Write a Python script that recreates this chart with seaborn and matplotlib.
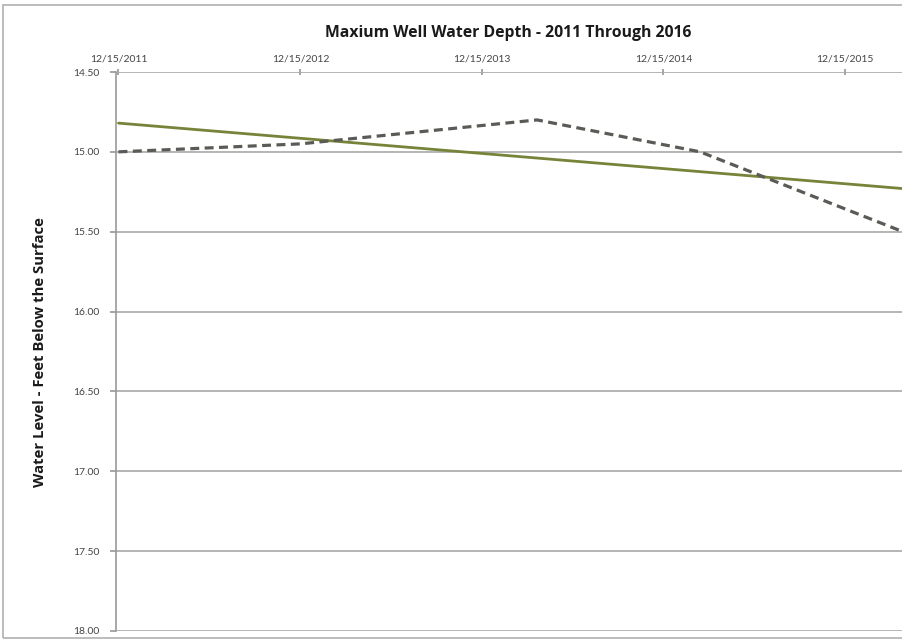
import matplotlib
matplotlib.use("Agg")
import matplotlib.pyplot as plt
import matplotlib.dates as mdates
from matplotlib.patches import Rectangle
import pandas as pd
import seaborn as sns

# Annual maximum depth readings (feet below surface)
depth_dates = ["2011-12-15", "2012-12-15", "2014-04-05", "2015-02-27", "2016-04-10"]
depth_values = [15.00, 14.95, 14.80, 15.00, 15.50]

# Linear trend across the record
trend_dates = ["2011-12-15", "2016-04-10"]
trend_values = [14.82, 15.23]

tick_dates = ["2011-12-15", "2012-12-15", "2013-12-15", "2014-12-15", "2015-12-15"]
y_ticks = [14.50, 15.00, 15.50, 16.00, 16.50, 17.00, 17.50, 18.00]

sns.set_theme(style="white")
plt.rcParams["font.family"] = ["Lato", "DejaVu Sans"]
heavy = ["Open Sans", "DejaVu Sans"]

depth = pd.DataFrame({"date": pd.to_datetime(depth_dates), "depth": depth_values})
trend = pd.DataFrame({"date": pd.to_datetime(trend_dates), "depth": trend_values})

fig = plt.figure(figsize=(9.03, 6.44), dpi=100)
ax = fig.add_axes([116 / 903, 1 - 631 / 644, (903 - 116) / 903, (631 - 72) / 644])

sns.lineplot(data=trend, x="date", y="depth", ax=ax, color="#76843a", linewidth=2.0)
sns.lineplot(data=depth, x="date", y="depth", ax=ax, color="#5a5a56", linewidth=2.3,
             linestyle=(0, (2.8, 1.7)))

ax.set_xlim(pd.Timestamp("2011-12-10"), pd.Timestamp("2016-04-10"))
ax.set_ylim(18.00, 14.50)
ax.set_yticks(y_ticks)
ax.yaxis.set_major_formatter(plt.FuncFormatter(lambda v, p: f"{v:.2f}"))
ax.set_xticks(pd.to_datetime(tick_dates))
ax.xaxis.set_major_formatter(mdates.DateFormatter("%m/%d/%Y"))
ax.xaxis.tick_top()
ax.xaxis.set_label_position("top")
ax.set_xlabel("")
ax.set_ylabel("")

ax.grid(axis="y", color="#a8a8a8", linewidth=1.2)
ax.grid(axis="x", visible=False)
for side in ["right", "bottom", "top"]:
    ax.spines[side].set_visible(False)
ax.spines["left"].set_color("#9a9a9a")
ax.spines["left"].set_linewidth(1.2)

ax.tick_params(axis="y", which="major", length=4, color="#9a9a9a", labelsize=7.5,
               labelcolor="#444444", left=True, pad=8)
ax.tick_params(axis="x", which="major", length=4, color="#9a9a9a", labelsize=7.5,
               labelcolor="#444444", top=True, direction="inout", pad=4)

fig.text(508 / 903, 1 - 33 / 644, "Maxium Well Water Depth - 2011 Through 2016",
         ha="center", va="center", fontsize=11.3, fontweight="bold", color="#1a1a1a",
         family=heavy)
fig.text(40 / 903, 1 - 352 / 644, "Water Level - Feet Below the Surface",
         ha="center", va="center", rotation=90, fontsize=10.7, fontweight="bold",
         color="#1a1a1a", family=heavy)

# Outer chart border
fig.patches.append(Rectangle((3 / 903, 1 - 638 / 644), 1.0, (638 - 5) / 644,
                             transform=fig.transFigure, fill=False,
                             edgecolor="#b0b0b0", linewidth=1.2))

fig.savefig("out.png", dpi=100)
